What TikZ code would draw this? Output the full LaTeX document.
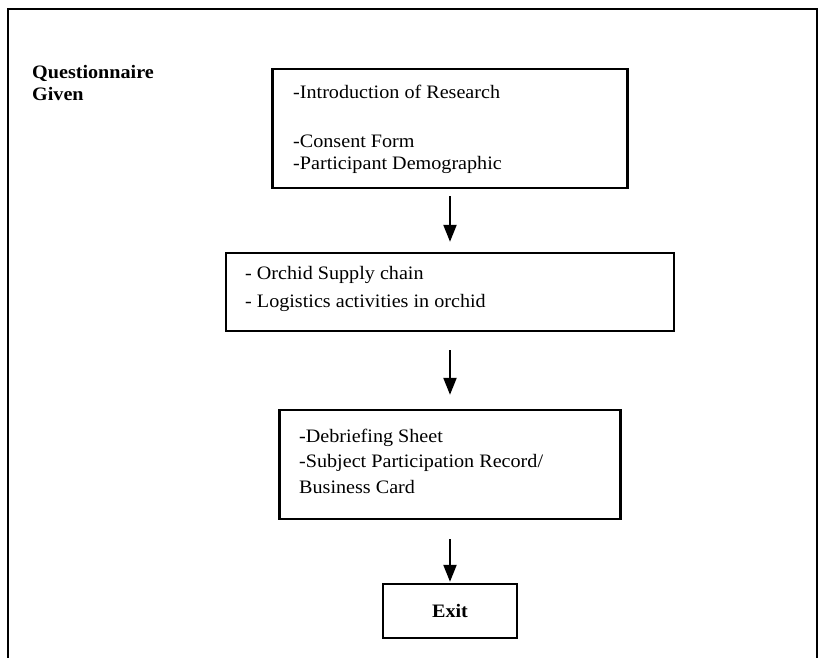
\documentclass[tikz,border=0pt]{standalone}
\usepackage{fontspec}
\setmainfont{Liberation Serif}[FakeStretch=1.06]
\usetikzlibrary{arrows.meta}
\newcommand\diagfont{\fontsize{19}{22}\selectfont}
\begin{document}
\begin{tikzpicture}[x=1pt,y=-1pt,
  box/.style={draw, line width=2.4pt, inner sep=0pt},
  txt/.style={anchor=base west, inner sep=0pt, font=\diagfont},
  btxt/.style={anchor=base west, inner sep=0pt, font=\diagfont\bfseries},
  arr/.style={line width=2.2pt, -{Triangle[length=17pt,width=13pt]}}]
\useasboundingbox (0,0) rectangle (819,657);
\clip (0,0) rectangle (819,657);
\fill[white] (0,0) rectangle (819,657);
% outer frame
\draw[line width=2.6pt] (8,680) -- (8,9) -- (817,9) -- (817,680);
% left label
\node[btxt] (q1) at (32,78) {Questionnaire};
\node[btxt] (q2) at (32,100) {Given};
% boxes
\node[box, minimum width=355pt, minimum height=119pt] (b1) at (450,128.5) {};
\node[box, minimum width=448pt, minimum height=78pt] (b2) at (450,292) {};
\node[box, minimum width=341pt, minimum height=109pt] (b3) at (450,464.5) {};
\node[box, minimum width=134pt, minimum height=54pt] (b4) at (450,611) {};
% texts
\node[txt] (t1) at (293,98) {-Introduction of Research};
\node[txt] (t2) at (293,147) {-Consent Form};
\node[txt] (t3) at (293,169.5) {-Participant Demographic};
\node[txt] (t4) at (245,279) {- Orchid Supply chain};
\node[txt] (t5) at (245,307) {- Logistics activities in orchid};
\node[txt] (t6) at (299,442) {-Debriefing Sheet};
\node[txt] (t7) at (299,467.5) {-Subject Participation Record/};
\node[txt] (t8) at (299,493) {Business Card};
\node[inner sep=0pt, font=\diagfont\bfseries] (ex) at (b4.center) {Exit};
% arrows
\draw[arr, shorten <=7pt, shorten >=10pt] (b1.south) -- (b2.north);
\draw[arr, shorten <=18pt, shorten >=14pt] (b2.south) -- (b3.north);
\draw[arr, shorten <=19pt, shorten >=1pt] (b3.south) -- (b4.north);
\end{tikzpicture}
\end{document}
